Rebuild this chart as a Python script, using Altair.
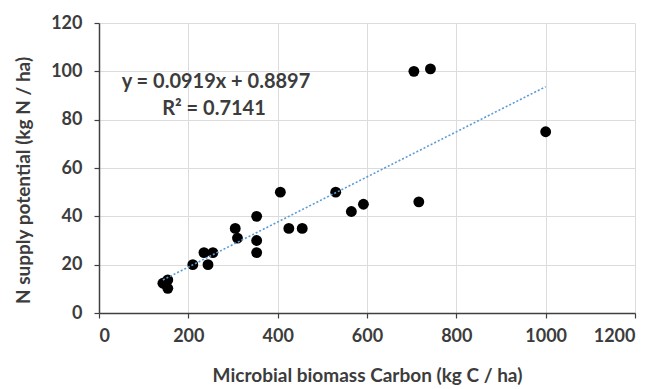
import altair as alt
import pandas as pd

# Data
biomass_c = [143, 154, 154, 210, 244, 235, 255, 305, 310, 353, 353, 353,
             406, 425, 455, 530, 565, 592, 705, 742, 716, 1000]
n_supply = [12.3, 13.7, 10.2, 20, 20, 25, 25, 35, 31, 40, 30, 25,
            50, 35, 35, 50, 42, 45, 100, 101, 46, 75]
equation_lines = ["y = 0.0919x + 0.8897", "R\u00b2 = 0.7141"]
x_ticks = [0, 200, 400, 600, 800, 1000, 1200]
y_ticks = [0, 20, 40, 60, 80, 100, 120]

df = pd.DataFrame({"c": biomass_c, "n": n_supply})

FONT = "Lato"
TXT = "#3c3c3c"

x_enc = alt.X(
    "c:Q",
    scale=alt.Scale(domain=[0, 1200], nice=False),
    axis=alt.Axis(
        values=x_ticks, format="d", title="Microbial biomass Carbon (kg C / ha)",
        titleY=62, titleBaseline="middle",
    ),
)
y_enc = alt.Y(
    "n:Q",
    scale=alt.Scale(domain=[0, 120], nice=False),
    axis=alt.Axis(
        values=y_ticks, format="d", title="N supply potential (kg N / ha)",
        titleX=-76, titleY=157, titleAngle=-90, titleBaseline="middle", titleAlign="center",
    ),
)

points = alt.Chart(df).mark_circle(size=118, color="#000000", opacity=1).encode(x=x_enc, y=y_enc)

trend = (
    alt.Chart(df)
    .transform_regression("c", "n", method="linear")
    .mark_line(color="#5b9bd5", strokeWidth=1.6, strokeDash=[2, 2])
    .encode(x="c:Q", y="n:Q")
)

eq_df = pd.DataFrame({"t": equation_lines, "row": [0, 1]})
eq1 = (
    alt.Chart(eq_df)
    .transform_filter("datum.row == 0")
    .mark_text(font=FONT, fontSize=20, fontWeight="bold", color=TXT, align="center", baseline="middle")
    .encode(text="t:N", x=alt.value(117), y=alt.value(59))
)
eq2 = (
    alt.Chart(eq_df)
    .transform_filter("datum.row == 1")
    .mark_text(font=FONT, fontSize=20, fontWeight="bold", color=TXT, align="center", baseline="middle")
    .encode(text="t:N", x=alt.value(115), y=alt.value(86))
)

chart = (
    alt.layer(points, trend, eq1, eq2)
    .properties(
        width=536, height=290,
        autosize=alt.AutoSizeParams(type="none"),
        padding={"left": 99, "top": 23, "right": 29, "bottom": 76},
        background="#ffffff",
    )
    .configure_view(stroke=None)
    .configure_axis(
        grid=True, gridColor="#dcdcdc", gridWidth=1,
        domainColor="#404040", domainWidth=1.5,
        tickColor="#404040", tickSize=5, tickWidth=1.2,
        labelFont=FONT, labelFontSize=18, labelFontWeight="bold", labelColor=TXT,
        titleFont=FONT, titleFontSize=19, titleFontWeight="bold", titleColor=TXT,
    )
    .configure_axisX(labelPadding=9)
    .configure_axisY(labelPadding=12)
)

chart.save("out.html", embed_options={"renderer": "svg", "actions": False})
